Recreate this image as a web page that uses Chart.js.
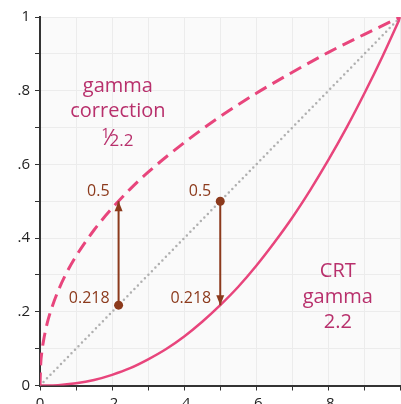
<!DOCTYPE html>
<html>
<head>
<meta charset="utf-8">
<script src="https://cdn.jsdelivr.net/npm/chart.js@4/dist/chart.umd.min.js"></script>
<style>
  html, body { margin: 0; padding: 0; background: #fff; overflow: hidden; }
  canvas { display: block; }
</style>
</head>
<body>
<canvas id="gamma" width="405" height="404"></canvas>
<script>
// gamma curves, values
const correctionX = [0, 0.002, 0.005, 0.01, 0.02, 0.03, 0.05, 0.07, 0.1, 0.15, 0.2, 0.25, 0.3, 0.4, 0.5, 0.6, 0.7, 0.8, 0.9, 1];
const correctionY = [0, 0.059, 0.090, 0.123, 0.169, 0.203, 0.256, 0.299, 0.351, 0.422, 0.481, 0.533, 0.579, 0.659, 0.730, 0.793, 0.850, 0.904, 0.953, 1];

const crtX = [0, 0.05, 0.1, 0.15, 0.2, 0.25, 0.3, 0.35, 0.4, 0.45, 0.5, 0.55, 0.6, 0.65, 0.7, 0.75, 0.8, 0.85, 0.9, 0.95, 1];
const crtY = [0, 0.001, 0.006, 0.015, 0.029, 0.047, 0.071, 0.099, 0.133, 0.173, 0.218, 0.268, 0.325, 0.388, 0.456, 0.531, 0.612, 0.699, 0.793, 0.893, 1];

const diagonalX = [0, 1];
const diagonalY = [0, 1];

// the two arrows: start (dot) -> end (arrow head)
const arrowUpX = [0.218, 0.218];
const arrowUpY = [0.218, 0.5];
const arrowDownX = [0.5, 0.5];
const arrowDownY = [0.5, 0.218];

// value labels next to the arrow ends
const valueLabels = ['0.5', '0.218', '0.5', '0.218'];
const valueLabelX = [0.218, 0.218, 0.5, 0.5];
const valueLabelY = [0.5, 0.218, 0.5, 0.218];

// curve captions (centre of first line, data coords)
const correctionCaption = ['gamma', 'correction'];
const correctionCaptionAt = [0.216, 0.812];
const crtCaption = ['CRT', 'gamma', '2.2'];
const crtCaptionAt = [0.826, 0.309];

const PINK = '#e8457c';
const TEXT_PINK = '#b8306c';
const BROWN = '#8c3a1c';

function pts(xs, ys){ return xs.map((x, i) => ({x: x, y: ys[i]})); }

function tickText(v){
    const r = Math.round(v * 10);
    if(r % 2) return '';
    if(r === 0) return '0';
    if(r === 10) return '1';
    return '.' + r;
}

const plotBg = {
    id: 'plotBg',
    beforeDraw(chart){
        const a = chart.chartArea, c = chart.ctx;
        c.save();
        c.fillStyle = '#fafafa';
        c.fillRect(a.left, a.top, a.right - a.left, a.bottom - a.top);
        c.restore();
    }
};

const notes = {
    id: 'notes',
    afterDatasetsDraw(chart){
        const c = chart.ctx;
        const xs = chart.scales.x, ys = chart.scales.y;
        c.save();

        // arrow heads
        chart.data.datasets.forEach((ds, i) => {
            if(!ds.arrow) return;
            const m = chart.getDatasetMeta(i);
            const p0 = m.data[0], p1 = m.data[1];
            const dir = p1.y < p0.y ? 1 : -1; // 1 = pointing up
            c.fillStyle = BROWN;
            c.beginPath();
            c.moveTo(p1.x, p1.y);
            c.lineTo(p1.x - 4, p1.y + dir * 10);
            c.lineTo(p1.x + 4, p1.y + dir * 10);
            c.closePath();
            c.fill();
        });

        // value labels
        c.font = '16px "Open Sans"';
        c.fillStyle = BROWN;
        c.textAlign = 'right';
        c.textBaseline = 'middle';
        valueLabels.forEach((t, i) => {
            const px = xs.getPixelForValue(valueLabelX[i]);
            const py = ys.getPixelForValue(valueLabelY[i]);
            const dy = valueLabelY[i] > 0.3 ? -10 : -7;
            c.fillText(t, px - 9, py + dy);
        });

        // captions
        c.fillStyle = TEXT_PINK;
        c.textAlign = 'center';
        c.font = '20px "Open Sans"';
        let cx = xs.getPixelForValue(correctionCaptionAt[0]);
        let cy = ys.getPixelForValue(correctionCaptionAt[1]);
        correctionCaption.forEach((t, i) => c.fillText(t, cx, cy + i * 25.5));
        // 1/2.2 fraction
        const fy = cy + 2 * 25.5 + 1;
        c.textAlign = 'left';
        c.font = '15px "Open Sans"';
        const w1 = c.measureText('1').width;
        c.font = '17px "Open Sans"';
        const w3 = c.measureText('2.2').width;
        c.font = '22px "Open Sans"';
        const w2 = c.measureText('\u2044').width;
        let fx = cx - (w1 + w2 + w3) / 2 + 1;
        c.font = '15px "Open Sans"';
        c.fillText('1', fx, fy - 5);
        c.font = '22px "Open Sans"';
        c.fillText('\u2044', fx + w1 - 2, fy);
        c.font = '17px "Open Sans"';
        c.fillText('2.2', fx + w1 + w2 - 3, fy + 3);

        c.textAlign = 'center';
        c.font = '20px "Open Sans"';
        cx = xs.getPixelForValue(crtCaptionAt[0]);
        cy = ys.getPixelForValue(crtCaptionAt[1]);
        crtCaption.forEach((t, i) => c.fillText(t, cx, cy + i * 25.5));

        c.restore();
    }
};

new Chart(document.getElementById('gamma'), {
    type: 'scatter',
    data: {
        datasets: [
            {
                data: pts(arrowUpX, arrowUpY), showLine: true, arrow: true, order: 0,
                borderColor: BROWN, borderWidth: 2, backgroundColor: BROWN,
                pointRadius: [4.5, 0], pointBorderWidth: 0
            },
            {
                data: pts(arrowDownX, arrowDownY), showLine: true, arrow: true, order: 0,
                borderColor: BROWN, borderWidth: 2, backgroundColor: BROWN,
                pointRadius: [4.5, 0], pointBorderWidth: 0
            },
            {
                data: pts(correctionX, correctionY), showLine: true, order: 1,
                borderColor: PINK, borderWidth: 3, borderDash: [13, 7],
                cubicInterpolationMode: 'monotone', pointRadius: 0
            },
            {
                data: pts(crtX, crtY), showLine: true, order: 1,
                borderColor: PINK, borderWidth: 2.5,
                cubicInterpolationMode: 'monotone', pointRadius: 0
            },
            {
                data: pts(diagonalX, diagonalY), showLine: true, order: 2,
                borderColor: '#b0b0b0', borderWidth: 2.5, borderDash: [0, 5],
                borderCapStyle: 'round', pointRadius: 0
            }
        ]
    },
    options: {
        responsive: false,
        animation: false,
        devicePixelRatio: 1,
        layout: { padding: { top: 17, left: 0, right: 0, bottom: 0 } },
        plugins: { legend: { display: false }, tooltip: { enabled: false } },
        scales: {
            x: {
                min: 0, max: 1,
                afterFit: s => { s.height = 18.5; },
                grid: { color: '#ececec', tickColor: '#333', tickLength: 5 },
                border: { color: '#333', width: 2 },
                ticks: {
                    stepSize: 0.1, autoSkip: false, maxRotation: 0, padding: 4,
                    color: '#222', font: { family: 'Open Sans', size: 15 },
                    callback: v => (Math.round(v * 10) === 10 ? '' : tickText(v))
                }
            },
            y: {
                min: 0, max: 1,
                afterFit: s => { s.width = 40; },
                grid: { color: '#ececec', tickColor: '#333', tickLength: 5 },
                border: { color: '#333', width: 2 },
                ticks: {
                    stepSize: 0.1, autoSkip: false, padding: 5,
                    color: '#222', font: { family: 'Open Sans', size: 15 },
                    callback: v => tickText(v)
                }
            }
        }
    },
    plugins: [plotBg, notes]
});
</script>
</body>
</html>
